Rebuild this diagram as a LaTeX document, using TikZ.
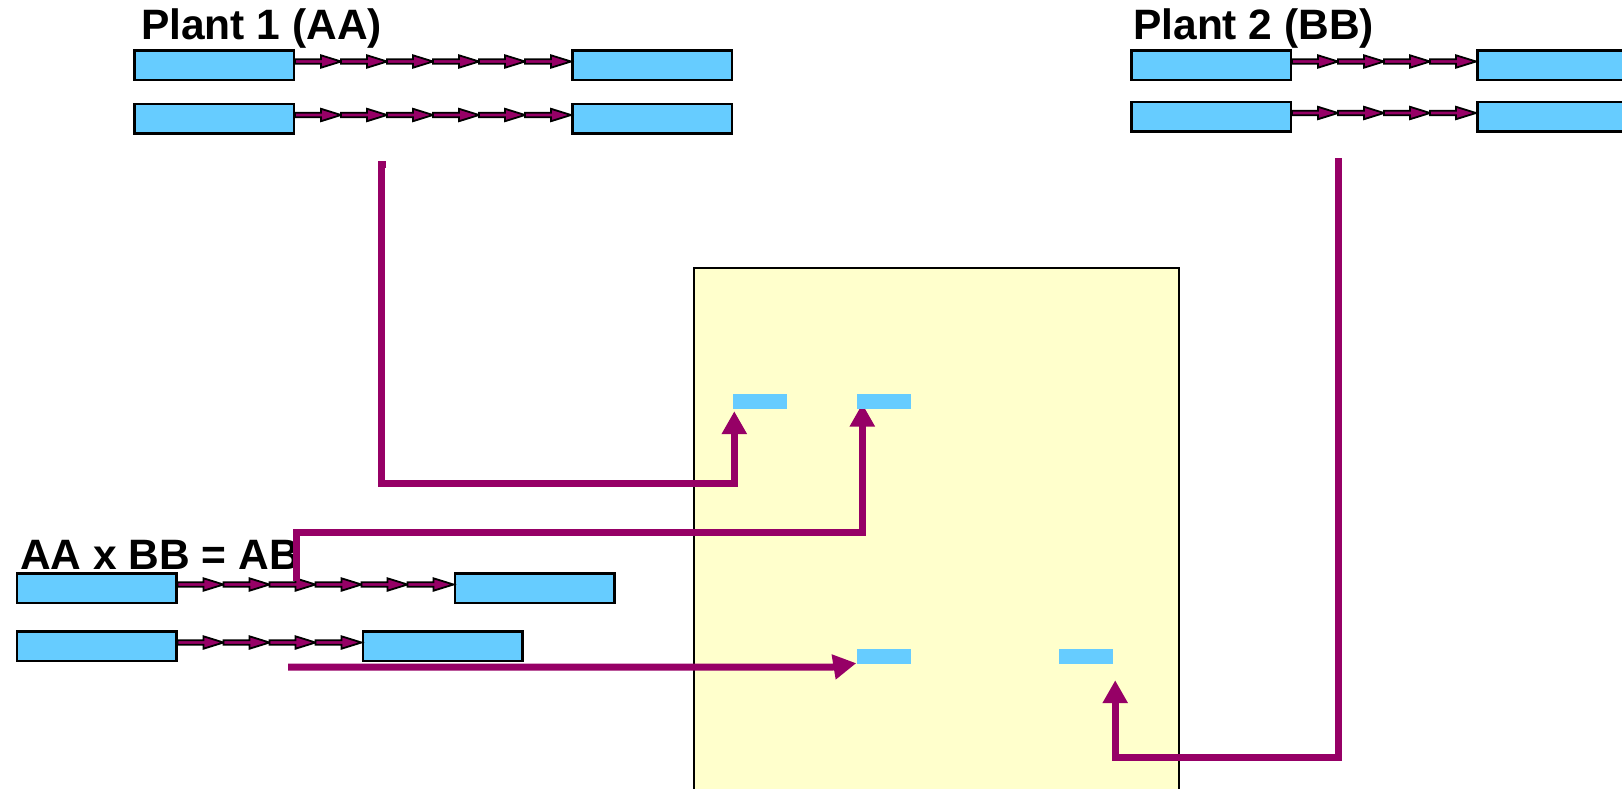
\documentclass[tikz,border=0pt]{standalone}
\usepackage{fontspec}
\setmainfont{Liberation Sans}
\usetikzlibrary{positioning,arrows.meta}

\definecolor{chromblue}{RGB}{102,204,255}
\definecolor{plum}{RGB}{150,0,102}
\definecolor{gelyellow}{RGB}{255,255,204}

\pgfdeclarelayer{front}
\pgfsetlayers{main,front}

\tikzset{
  chrom/.style={draw, line width=2.5pt, fill=chromblue, minimum width=159.5pt, minimum height=29.5pt, inner sep=0},
  band/.style={fill=chromblue, minimum width=54pt, minimum height=15pt, inner sep=0},
  gene/.style={draw=plum, line width=7pt, -{Triangle[length=23pt,width=24pt]}},
  title/.style={font=\bfseries\fontsize{42.5}{48}\selectfont, inner sep=0, anchor=base west},
  link/.pic={
    \draw[fill=plum, line width=1.8pt] (0,-5.7) -- (26,-5.7) -- (26,-9.7) -- (46,-3.5)
      -- (26,2.7) -- (26,-1.3) -- (0,-1.3) -- cycle;
  }
}

\begin{document}
\begin{tikzpicture}[x=1pt, y=-1pt]
  \useasboundingbox (0,0) rectangle (1622,788);

  % gel
  \node[draw, line width=1.5pt, fill=gelyellow, anchor=north west, minimum width=485pt, minimum height=560pt, inner sep=0] (gel) at (693,267) {};

  % parents and hybrid
  \node[title] (plant1) at (141,39) {Plant 1 (AA)};
  \node[title] (plant2) at (1133,39) {Plant 2 (BB)};
  \node[title] (cross) at (20,569) {AA x BB = AB};

  \node[chrom] (aL1) at (214,65) {};
  \node[chrom, right=276pt of aL1] (aR1) {};
  \node[chrom] (aL2) at (214,118.5) {};
  \node[chrom, right=276pt of aL2] (aR2) {};

  \node[chrom] (bL1) at (1211,65) {};
  \node[chrom, right=184pt of bL1] (bR1) {};
  \node[chrom] (bL2) at (1211,116.5) {};
  \node[chrom, right=184pt of bL2] (bR2) {};

  \node[chrom] (hL1) at (96.5,588) {};
  \node[chrom, right=276pt of hL1] (hR1) {};
  \node[chrom] (hL2) at (96.5,646) {};
  \node[chrom, right=184pt of hL2] (hR2) {};

  \foreach \k in {0,...,5} {
    \pic at ([xshift=\k*46pt]aL1.east) {link};
    \pic at ([xshift=\k*46pt]aL2.east) {link};
    \pic at ([xshift=\k*46pt]hL1.east) {link};
  }
  \foreach \k in {0,...,3} {
    \pic at ([xshift=\k*46pt]bL1.east) {link};
    \pic at ([xshift=\k*46pt]bL2.east) {link};
    \pic at ([xshift=\k*46pt]hL2.east) {link};
  }

  % bands
  \begin{pgfonlayer}{front}
    \node[band] (band1) at (759.5,401) {};
    \node[band] (band2) at (883.5,401) {};
    \node[band] (band3) at (883.5,656.5) {};
    \node[band] (band4) at (1086,656.5) {};
  \end{pgfonlayer}

  \coordinate (p1) at (386,164);
  \coordinate (p2) at (1338,158);
  \coordinate (h1) at (296,581);
  \coordinate (h2) at (288,667);

  \draw[gene] (p1) -- ++(-5,0) -- ++(0,319) -| ([xshift=2pt,yshift=-2.5pt]band1.south west);
  \draw[gene] (h1) -- ++(0,-49) -| ([xshift=6pt,yshift=5pt]band2.south west);
  \draw[gene] (h2) -- ++(545,0) -- ([yshift=1pt]band3.south west);
  \draw[gene] (p2) -- ++(0,599) -| ([xshift=2pt,yshift=-16pt]band4.south east);
\end{tikzpicture}
\end{document}
